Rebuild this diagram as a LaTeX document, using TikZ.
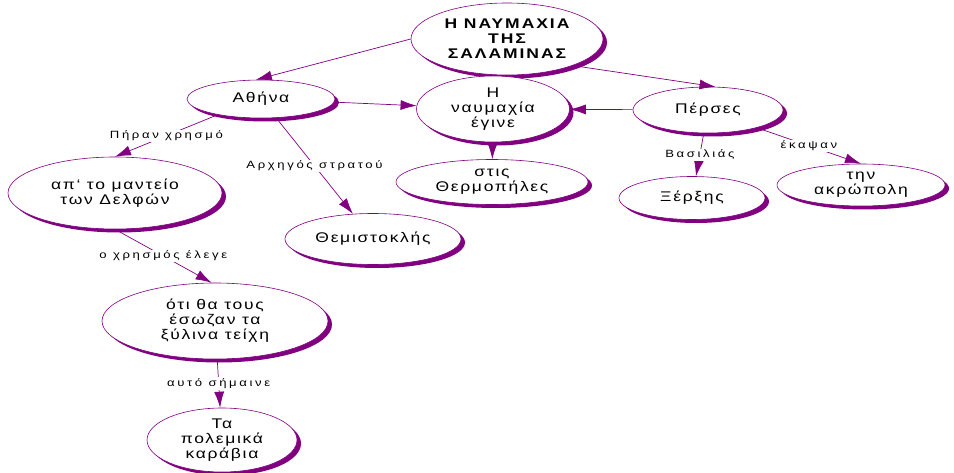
\documentclass[tikz,border=0pt]{standalone}
\usepackage{fontspec}
\setmainfont{Liberation Sans}[FakeStretch=1.25, LetterSpace=12]
\newfontfamily\linkfont{Liberation Sans}[FakeStretch=1.25, LetterSpace=25]
\newfontfamily\headfont{Liberation Sans}[FakeStretch=1.25, LetterSpace=14]
\usepackage{xcolor}
\usepackage{tikz}
\usetikzlibrary{shapes.geometric, shadows, arrows.meta}
\definecolor{cmpurple}{HTML}{800080}

\begin{document}
\begin{tikzpicture}[x=1pt, y=-1pt,
    concept/.style={ellipse, draw=cmpurple, line width=0.6pt, fill=white,
        inner sep=0pt, align=center, font=\fontsize{14}{15}\selectfont,
        drop shadow={shadow xshift=4pt, shadow yshift=-3.5pt,
            fill=cmpurple, opacity=1}},
    link/.style={draw=cmpurple, line width=0.7pt,
        -{Latex[length=16pt, width=10pt]}},
    lbl/.style={fill=white, inner sep=1pt,
        font=\linkfont\fontsize{10.5}{12}\selectfont}]
    \useasboundingbox (0,0) rectangle (954,473);

    \node[concept, minimum width=192, minimum height=72,
        font=\headfont\bfseries\fontsize{14}{15}\selectfont]
        (title) at (507,39) {Η ΝΑΥΜΑΧΙΑ\\ΤΗΣ\\ΣΑΛΑΜΙΝΑΣ};
    \node[concept, minimum width=148, minimum height=38] (athina) at (261,99) {Αθήνα};
    \node[concept, minimum width=153, minimum height=66] (naumachia) at (493,109) {Η\\ναυμαχία\\έγινε};
    \node[concept, minimum width=150, minimum height=46] (perses) at (708,110) {Πέρσες};
    \node[concept, minimum width=192, minimum height=45] (thermo) at (492,182) {στις\\Θερμοπήλες};
    \node[concept, minimum width=146, minimum height=43] (xerxis) at (692,198) {Ξέρξης};
    \node[concept, minimum width=168, minimum height=42] (akropoli) at (861,185) {την\\ακρώπολη};
    \node[concept, minimum width=214, minimum height=72] (manteio) at (115,193) {απ\symbol{"60} το μαντείο\\των Δελφών};
    \node[concept, minimum width=176, minimum height=51] (themis) at (373,239) {Θεμιστοκλής};
    \node[concept, minimum width=226, minimum height=76] (teixi) at (215,321) {ότι θα τους\\έσωζαν τα\\ξύλινα τείχη};
    \node[concept, minimum width=150, minimum height=64] (karavia) at (222,440) {Τα\\πολεμικά\\καράβια};

    \draw[link] (title.west) -- (athina.105);
    \draw[link] (title.-22) -- (perses.72);
    \draw[link] (athina) -- (naumachia);
    \draw[link] (perses) -- (naumachia);
    \draw[link] (naumachia) -- (thermo);
    \draw[link] (athina.200) -- node[lbl] {Πήραν χρησμό} (manteio.north);
    \draw[link] (athina) -- node[lbl] {Αρχηγός στρατού} (themis);
    \draw[link] (perses) -- node[lbl] {Βασιλιάς} (xerxis);
    \draw[link] (perses.-20) -- node[lbl] {έκαψαν} (akropoli.north);
    \draw[link] (manteio.south) -- node[lbl] {ο χρησμός έλεγε} (teixi.95);
    \draw[link] (teixi) -- node[lbl] {αυτό σήμαινε} (karavia);
\end{tikzpicture}
\end{document}
